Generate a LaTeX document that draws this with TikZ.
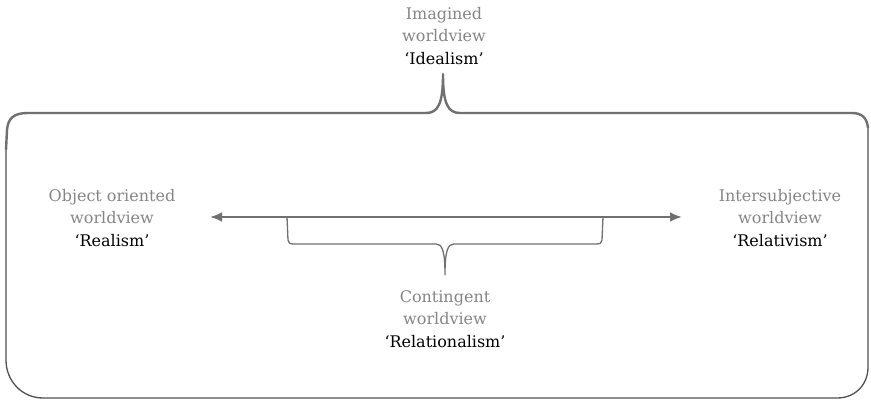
\documentclass[tikz,border=0pt]{standalone}
\usepackage{fontspec}
\setmainfont{DejaVu Serif}
\usetikzlibrary{arrows.meta}
\definecolor{txtgray}{HTML}{858585}
\definecolor{linegray}{HTML}{707070}
\definecolor{boxgray}{HTML}{505050}
\tikzset{
  lbl/.style={align=center, font=\fontsize{16}{22.5}\selectfont, text=txtgray, inner sep=0pt},
  brace/.style={draw=linegray, line width=2.4pt, line join=round},
  thinbrace/.style={draw=linegray, line width=1.3pt, line join=round},
  boxline/.style={draw=boxgray, line width=1.3pt},
  arr/.style={draw=linegray, line width=2.6pt, {Latex[length=12pt,width=10pt]}-{Latex[length=12pt,width=10pt]}}
}
\begin{document}
\begin{tikzpicture}[x=1pt,y=-1pt]
\useasboundingbox (0,0) rectangle (871,401);
% labels
\node[lbl] (ideal) at (444,36) {Imagined\\worldview\\\textcolor{black}{‘Idealism’}};
\node[lbl] (obj) at (112,218) {Object oriented\\worldview\\\textcolor{black}{‘Realism’}};
\node[lbl] (inter) at (780,218) {Intersubjective\\worldview\\\textcolor{black}{‘Relativism’}};
\node[lbl] (cont) at (445,319) {Contingent\\worldview\\\textcolor{black}{‘Relationalism’}};
% coordinates
\coordinate (al) at (210,217);
\coordinate (ar) at (682,217);
\coordinate (bl) at (287,217);
\coordinate (br) at (603,217);
\coordinate (bc) at (445,275);
\coordinate (tc) at (443,74);
% box sides and bottom
\path[boxline] (6,150) -- (6,360) .. controls (6,381) and (22,398) .. (43,398) -- (837,398)
   .. controls (855,398) and (868,385) .. (868,367) -- (868,128);
% top brace
\path[brace] (6,150) -- (7,130) .. controls (8,118) and (14,113) .. (28,113) -- (426,113)
   .. controls (438,113) and (443,104) .. (tc)
   .. controls (443,104) and (448,113) .. (460,113) -- (852,113)
   .. controls (862,113) and (867,118) .. (868,128);
% main arrow
\path[arr] (al) -- (ar);
% lower brace
\path[thinbrace] (bl) -- (288,240) .. controls (288,243) and (290,244) .. (294,244) -- (436,244)
   .. controls (442,244) and (445,250) .. (bc)
   .. controls (445,250) and (448,244) .. (454,244) -- (596,244)
   .. controls (600,244) and (602,243) .. (602,240) -- (br);
\end{tikzpicture}
\end{document}
